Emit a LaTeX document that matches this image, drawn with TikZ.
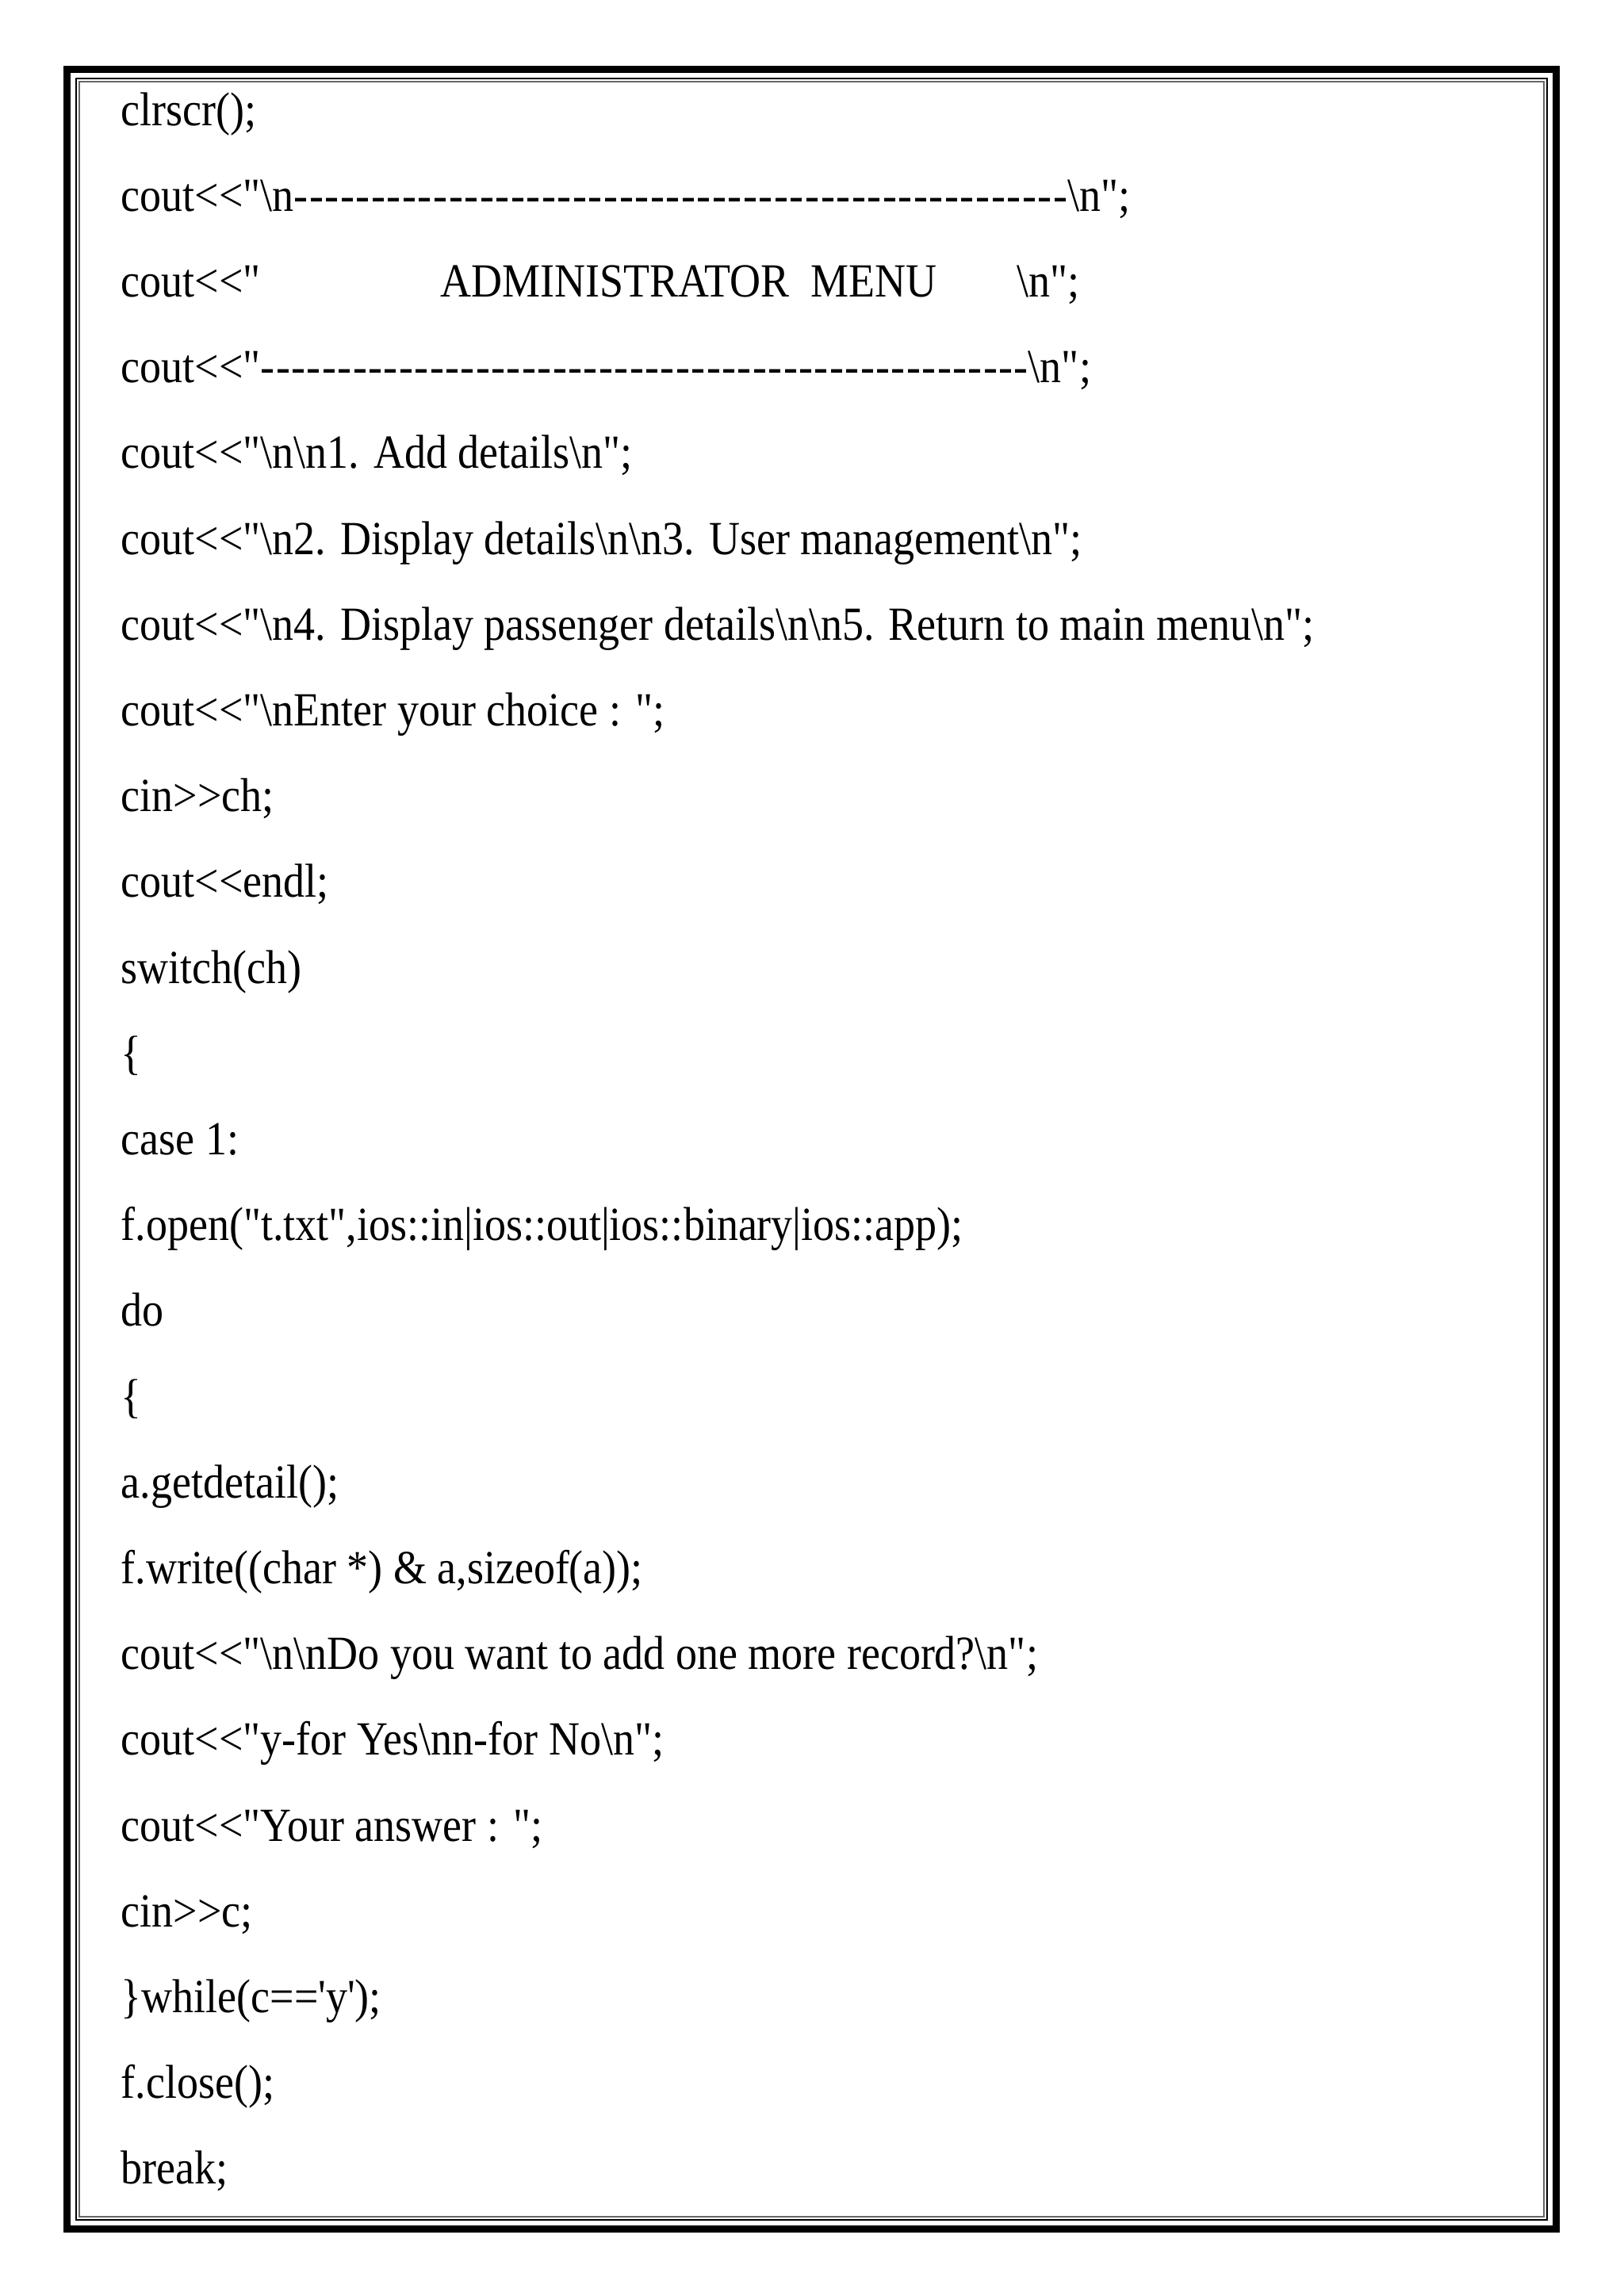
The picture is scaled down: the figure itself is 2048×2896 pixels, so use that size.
\documentclass[tikz,border=0pt]{standalone}
\usepackage{fontspec}
\newfontfamily\cf{Liberation Serif}
\newcommand\bs{\textbackslash}
\newcommand\dashrow[2]{\hbox to #2{\foreach\i in{1,...,#1}{-\hfill}-}}
\tikzset{codeline/.style={anchor=base west,inner sep=0pt,font=\cf\fontsize{15pt}{15pt}\selectfont,xscale=0.9}}
\begin{document}
\begin{tikzpicture}[x=0.25pt,y=-0.25pt]
\useasboundingbox (0,0) rectangle (2048,2896);
\draw[line width=2.25pt] (84.5,87.5) rectangle (1962.5,2811.5);
\draw[line width=0.5pt] (96,99) rectangle (1951,2800);
\draw[line width=0.4pt,black!60] (100,103) rectangle (1947,2796);
\def\L{152}
\foreach \t [count=\k from 0] in {
 {clrscr();},
 {cout<<"\bs n\dashrow{49}{271pt}\bs n";},
 {cout<<"\hspace{63pt}ADMINISTRATOR\ \ MENU\hspace{28pt}\bs n";},
 {cout<<"\dashrow{49}{269pt}\bs n";},
 {cout<<"\bs n\bs n1. Add details\bs n";},
 {cout<<"\bs n2. Display details\bs n\bs n3. User management\bs n";},
 {cout<<"\bs n4. Display passenger details\bs n\bs n5. Return to main menu\bs n";},
 {cout<<"\bs nEnter your choice : ";},
 {cin>{}>ch;},
 {cout<<endl;},
 {switch(ch)},
 {\{},
 {case 1:},
 {f.open("t.txt",ios::in|ios::out|ios::binary|ios::app);},
 {do},
 {\{},
 {a.getdetail();},
 {f.write((char *) \& a,sizeof(a));},
 {cout<<"\bs n\bs nDo you want to add one more record?\bs n";},
 {cout<<"y-for Yes\bs nn-for No\bs n";},
 {cout<<"Your answer : ";},
 {cin>{}>c;},
 {\}while(c=='y');},
 {f.close();},
 {break;}}
 {\node[codeline] (l\k) at (\L,158+108.2*\k) {\t};}
\end{tikzpicture}
\end{document}
